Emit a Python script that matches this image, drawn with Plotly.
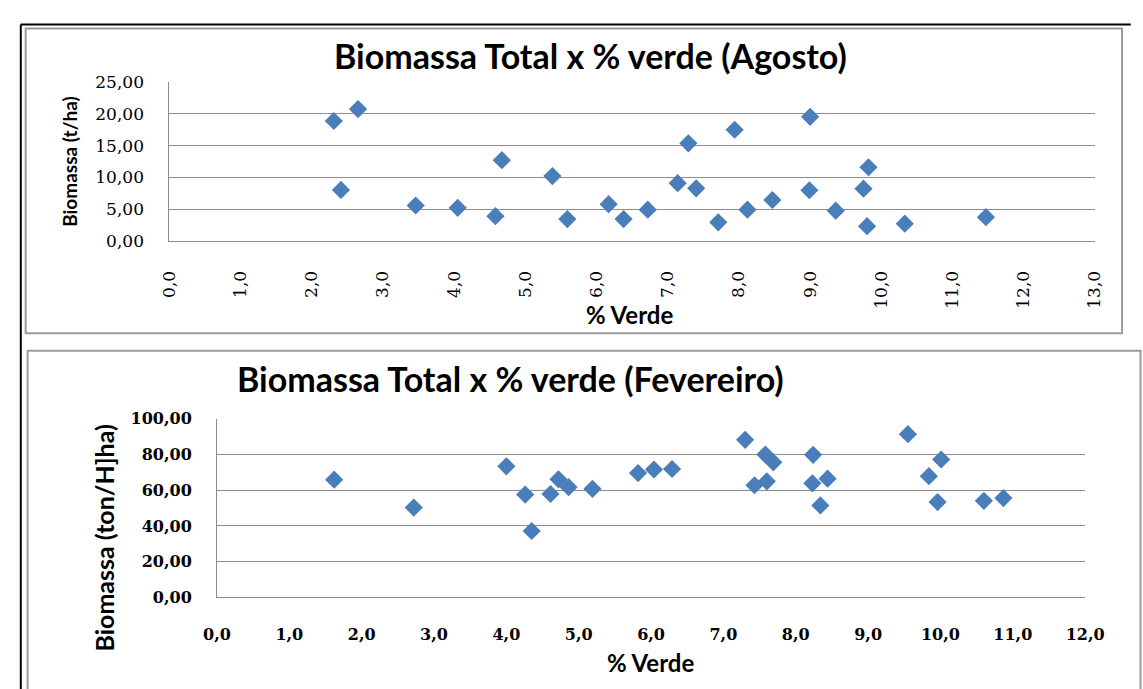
import plotly.graph_objects as go

# ---- data: August ----
ago_verde = [2.31, 2.65, 2.41, 3.46, 4.05, 4.67, 4.58, 5.38, 5.59, 6.17, 6.38,
             6.72, 7.14, 7.29, 7.40, 7.71, 7.94, 8.12, 8.47, 9.00, 8.99, 9.36,
             9.82, 9.75, 9.80, 10.33, 11.47]
ago_biomassa = [18.85, 20.73, 8.03, 5.59, 5.23, 12.70, 3.91, 10.21, 3.46, 5.79, 3.46,
                4.93, 9.10, 15.35, 8.28, 2.95, 17.48, 4.93, 6.45, 19.51, 7.98, 4.78,
                11.59, 8.23, 2.34, 2.74, 3.76]

# ---- data: February ----
fev_verde = [1.62, 2.72, 4.00, 4.26, 4.35, 4.61, 4.72, 4.86, 5.19, 5.82, 6.04,
             6.29, 7.30, 7.58, 7.69, 7.43, 7.60, 8.24, 8.23, 8.44, 8.34, 9.55,
             10.01, 9.84, 9.96, 10.60, 10.87]
fev_biomassa = [65.9, 50.3, 73.4, 57.6, 37.2, 57.9, 66.1, 61.7, 60.8, 69.6, 71.6,
                71.9, 88.2, 80.0, 75.6, 62.8, 65.0, 79.8, 63.9, 66.5, 51.5, 91.4,
                77.2, 67.9, 53.4, 54.1, 55.6]

titulo_ago = "Biomassa Total x % verde (Agosto)"
titulo_fev = "Biomassa Total x % verde (Fevereiro)"
eixo_x = "% Verde"
eixo_y_ago = "Biomassa (t/ha)"
eixo_y_fev = "Biomassa (ton/H]ha)"

W, H = 1143, 689
def px(x):
    return x / W
def py(y):
    return 1 - y / H

AZUL = "#4A7EBB"
CINZA = "#8C8C8C"
TITLE_FONT = "Lato"
TICK_FONT = "DejaVu Serif"

fig = go.Figure()
fig.add_trace(go.Scatter(x=ago_verde, y=ago_biomassa, mode="markers",
                         marker=dict(symbol="diamond", size=14, color=AZUL),
                         xaxis="x", yaxis="y", showlegend=False))
fig.add_trace(go.Scatter(x=fev_verde, y=fev_biomassa, mode="markers",
                         marker=dict(symbol="diamond", size=14, color=AZUL),
                         xaxis="x2", yaxis="y2", showlegend=False))

axis_common = dict(showline=True, linecolor=CINZA, linewidth=1, ticks="",
                   zeroline=False, fixedrange=True)

fig.update_layout(
    width=W, height=H, autosize=False,
    margin=dict(l=0, r=0, t=0, b=0),
    paper_bgcolor="white", plot_bgcolor="white",
    separators=",.",
    xaxis=dict(domain=[px(160), px(1113)], range=[0, 13], dtick=1, tick0=0,
               tickformat=".1f", tickangle=-90, showgrid=False,
               ticklabelstandoff=22, anchor="y",
               tickfont=dict(family=TICK_FONT, size=17, color="black"), **axis_common),
    yaxis=dict(domain=[py(238), py(74)], range=[0, 25], dtick=5, tick0=0,
               tickformat=".2f", showgrid=True, gridcolor=CINZA, gridwidth=1,
               ticklabelstandoff=21, anchor="x",
               tickfont=dict(family=TICK_FONT, size=17, color="black"), **axis_common),
    xaxis2=dict(domain=[px(209), px(1103)], range=[0, 12], dtick=1, tick0=0,
                tickformat=".1f", showgrid=False, ticklabelstandoff=22, anchor="y2",
                tickfont=dict(family=TICK_FONT, size=16, color="black", weight="bold"),
                **axis_common),
    yaxis2=dict(domain=[py(605), py(421)], range=[0, 100], dtick=20, tick0=0,
                tickformat=".2f", showgrid=True, gridcolor=CINZA, gridwidth=1,
                ticklabelstandoff=21, anchor="x2",
                tickfont=dict(family=TICK_FONT, size=16, color="black", weight="bold"),
                **axis_common),
)

def label(text, x, y, size, angle=0):
    fig.add_annotation(text=text, x=px(x), y=py(y), xref="paper", yref="paper",
                       showarrow=False, textangle=angle, xanchor="center", yanchor="middle",
                       font=dict(family=TITLE_FONT, size=size, color="black", weight="bold"))

label(titulo_ago, 594, 47, 34)
label(eixo_x, 634, 314, 24)
label(eixo_y_ago, 57, 156, 19, -90)
label(titulo_fev, 511, 380, 34)
label(eixo_x, 655, 672, 24)
label(eixo_y_fev, 93, 544, 25, -90)

# panel frames
fig.add_shape(type="rect", xref="paper", yref="paper",
              x0=px(12), x1=px(1141), y0=py(333), y1=py(19),
              line=dict(color="#9A9A9A", width=2))
fig.add_shape(type="rect", xref="paper", yref="paper",
              x0=px(14), x1=px(1160), y0=py(710), y1=py(351),
              line=dict(color="#9A9A9A", width=2))
# outer black frame
fig.add_shape(type="line", xref="paper", yref="paper",
              x0=px(7), x1=px(1150), y0=py(15), y1=py(15),
              line=dict(color="black", width=2))
fig.add_shape(type="line", xref="paper", yref="paper",
              x0=px(7), x1=px(7), y0=py(15), y1=py(700),
              line=dict(color="black", width=2))

fig.write_html("out.html")
